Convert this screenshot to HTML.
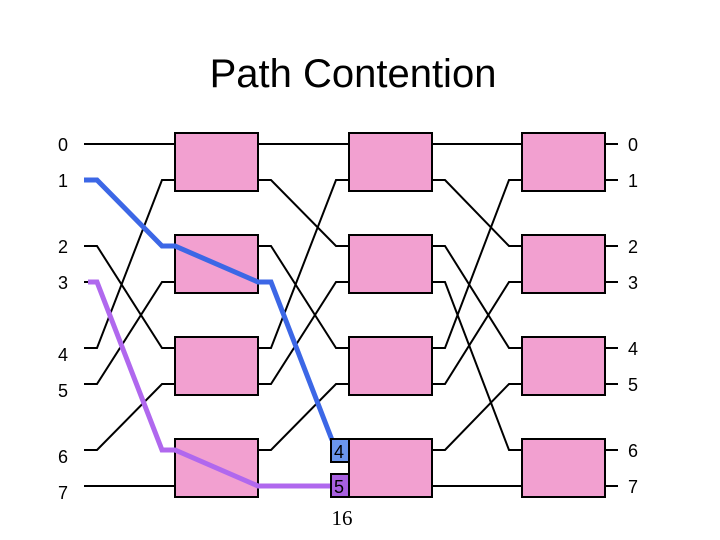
<!DOCTYPE html>
<html><head><style>body{margin:0;background:#fff}svg{display:block}</style></head><body>
<svg width="720" height="540" xmlns="http://www.w3.org/2000/svg" font-family="Liberation Sans, Arial, sans-serif">
<text x="353" y="87" font-size="40" text-anchor="middle">Path Contention</text>
<g stroke="#000" stroke-width="2" fill="none">
<!-- inputs -->
<polyline points="84,144 175,144"/>
<polyline points="84,180 97,180 162,246 175,246"/>
<polyline points="84,246 97,246 162,348 175,348"/>
<polyline points="84,282 97,282 162,450 175,450"/>
<polyline points="84,348 97,348 162,180 175,180"/>
<polyline points="84,384 97,384 162,282 175,282"/>
<polyline points="84,450 97,450 162,384 175,384"/>
<polyline points="84,486 175,486"/>
<!-- stage 2 -->
<polyline points="258,144 349,144"/>
<polyline points="258,180 271,180 336,246 349,246"/>
<polyline points="258,246 271,246 336,348 349,348"/>
<polyline points="258,282 271,282 336,450 349,450"/>
<polyline points="258,348 271,348 336,180 349,180"/>
<polyline points="258,384 271,384 336,282 349,282"/>
<polyline points="258,450 271,450 336,384 349,384"/>
<polyline points="258,486 349,486"/>
<!-- stage 3 -->
<polyline points="432,144 522,144"/>
<polyline points="432,180 445,180 509,246 522,246"/>
<polyline points="432,246 445,246 509,348 522,348"/>
<polyline points="432,282 445,282 509,450 522,450"/>
<polyline points="432,348 445,348 509,180 522,180"/>
<polyline points="432,384 445,384 509,282 522,282"/>
<polyline points="432,450 445,450 509,384 522,384"/>
<polyline points="432,486 522,486"/>
<!-- outputs -->
<path d="M605 144H618M605 180H618M605 246H618M605 282H618M605 348H618M605 384H618M605 450H618M605 486H618"/>
</g>
<g fill="#f2a0d0" stroke="#000" stroke-width="2">
<rect x="175" y="133" width="83" height="58"/><rect x="175" y="235" width="83" height="58"/><rect x="175" y="337" width="83" height="58"/><rect x="175" y="439" width="83" height="58"/>
<rect x="349" y="133" width="83" height="58"/><rect x="349" y="235" width="83" height="58"/><rect x="349" y="337" width="83" height="58"/><rect x="349" y="439" width="83" height="58"/>
<rect x="522" y="133" width="83" height="58"/><rect x="522" y="235" width="83" height="58"/><rect x="522" y="337" width="83" height="58"/><rect x="522" y="439" width="83" height="58"/>
</g>
<polyline points="84,180 97,180 162,246 175,246 258,282 271,282 332,440" fill="none" stroke="#3c67e6" stroke-width="5"/>
<polyline points="88,282 97,282 162,450 175,450 258,486 332,486" fill="none" stroke="#b068ee" stroke-width="5"/>
<rect x="331" y="439" width="18" height="23" fill="#6a96ee" stroke="#000" stroke-width="2"/>
<rect x="331" y="474" width="18" height="23" fill="#a860e0" stroke="#000" stroke-width="2"/>
<g font-size="18">
<text x="334" y="458">4</text><text x="334" y="493">5</text>
</g>
<text x="342" y="525" font-size="21" font-family="Liberation Serif, serif" text-anchor="middle">16</text>
<g font-size="18">
<text x="58" y="151">0</text><text x="58" y="187">1</text><text x="58" y="253">2</text><text x="58" y="289">3</text>
<text x="58" y="361">4</text><text x="58" y="397">5</text><text x="58" y="463">6</text><text x="58" y="499">7</text>
<text x="628" y="151">0</text><text x="628" y="187">1</text><text x="628" y="253">2</text><text x="628" y="289">3</text>
<text x="628" y="355">4</text><text x="628" y="391">5</text><text x="628" y="457">6</text><text x="628" y="493">7</text>
</g>
</svg>
</body></html>
